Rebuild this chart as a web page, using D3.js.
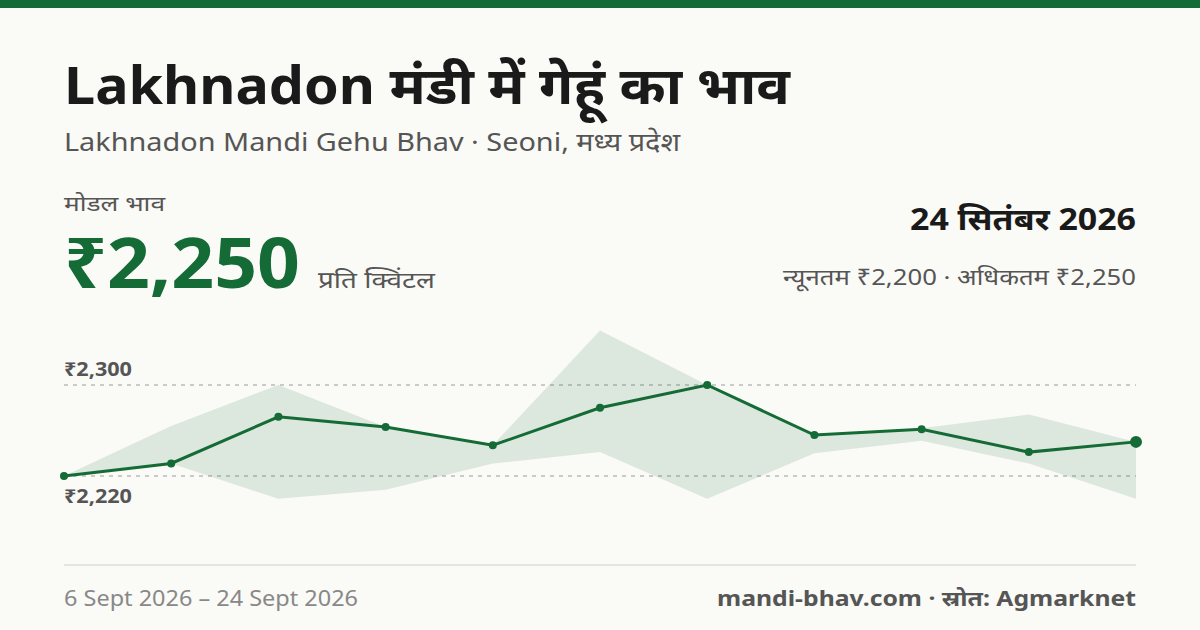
<!DOCTYPE html>
<html><head><meta charset="utf-8">
<script src="https://cdn.jsdelivr.net/npm/d3@7"></script>
<style>body{margin:0;background:#fafaf6;}svg{display:block;font-family:"Noto Sans",sans-serif;}</style>
</head><body><svg id="c" width="1200" height="630"></svg>
<script>
const dates = ["6 Sept","8 Sept","10 Sept","12 Sept","14 Sept","16 Sept","18 Sept","20 Sept","22 Sept","23 Sept","24 Sept"];
const modal = [2220,2231,2272,2263,2247,2280,2300,2256,2261,2241,2250];
const maxP  = [2220,2264,2300,2263,2247,2348,2300,2256,2262,2274,2250];
const minP  = [2220,2231,2200,2208,2231,2241,2200,2240,2251,2231,2200];
const yTicks = [2220,2300];
const green = "#146b36";
const svg = d3.select("#c");
svg.append("rect").attr("width",1200).attr("height",8).attr("fill",green);
const t=(x,y,s,o)=>{const e=svg.append("text").attr("x",x).attr("y",y).text(s)
  .attr("font-size",o.fs).attr("font-weight",o.fw||400).attr("fill",o.c||"#222").attr("text-anchor",o.a||"start");
  if(o.w) e.attr("textLength",o.w).attr("lengthAdjust","spacingAndGlyphs"); return e;};
t(64,104,"Lakhnadon मंडी में गेहूं का भाव",{fs:52,fw:700,c:"#1a1a1a",w:726});
t(64,151,"Lakhnadon Mandi Gehu Bhav · Seoni, मध्य प्रदेश",{fs:25,c:"#555",w:616});
t(64,211,"मोडल भाव",{fs:20,c:"#555",w:101});
t(64,288,"₹2,250",{fs:70,fw:700,c:green,w:236});
t(318,288,"प्रति क्विंटल",{fs:23,c:"#555",w:117});
t(1136,230,"24 सितंबर 2026",{fs:30,fw:700,c:"#1a1a1a",a:"end",w:226});
t(1136,285,"न्यूनतम ₹2,200 · अधिकतम ₹2,250",{fs:22,c:"#555",a:"end",w:353});
const x=d3.scalePoint().domain(dates).range([64,1136]);
const y=d3.scaleLinear().domain([2220,2300]).range([476,385]);
yTicks.forEach(v=>{
  svg.append("line").attr("x1",64).attr("x2",1136).attr("y1",y(v)).attr("y2",y(v))
   .attr("stroke","#bbb").attr("stroke-width",1.5).attr("stroke-dasharray","4,5");
});
t(64,y(2300)-9,"₹2,300",{fs:19,fw:700,c:"#555",w:68});
t(64,y(2220)+27,"₹2,220",{fs:19,fw:700,c:"#555",w:68});
const area=d3.area().x((d,i)=>x(dates[i])).y0((d,i)=>y(minP[i])).y1(d=>y(d));
svg.append("path").datum(maxP).attr("d",area).attr("fill","#146b36").attr("opacity",0.13);
const line=d3.line().x((d,i)=>x(dates[i])).y(d=>y(d));
svg.append("path").datum(modal).attr("d",line).attr("fill","none").attr("stroke",green).attr("stroke-width",3);
svg.selectAll("circle").data(modal).join("circle").attr("cx",(d,i)=>x(dates[i])).attr("cy",d=>y(d))
  .attr("r",(d,i)=>i==modal.length-1?6:4).attr("fill",green);
svg.append("line").attr("x1",64).attr("x2",1136).attr("y1",565).attr("y2",565).attr("stroke","#ddd").attr("stroke-width",1.5);
t(64,606,"6 Sept 2026 – 24 Sept 2026",{fs:21,c:"#888",w:294});
t(1136,606,"mandi-bhav.com · स्रोत: Agmarknet",{fs:21,fw:700,c:"#555",a:"end",w:419});
</script></body></html>
